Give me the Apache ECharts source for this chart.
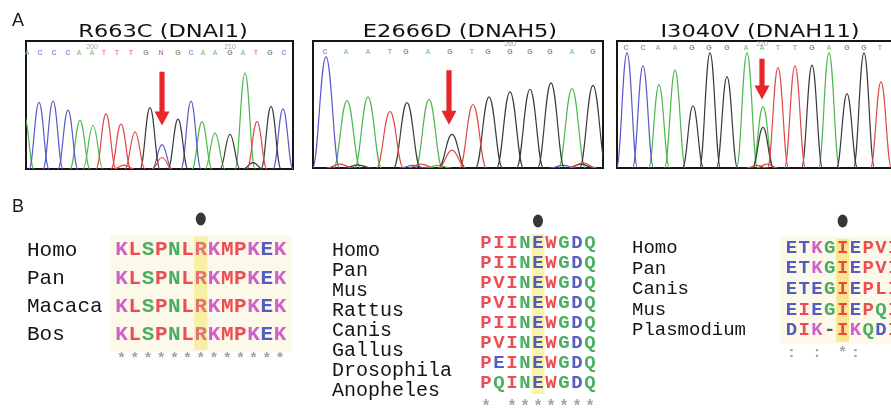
<!DOCTYPE html>
<html><head><meta charset="utf-8">
<script src="https://cdn.jsdelivr.net/npm/echarts@6/dist/echarts.min.js"></script>
<style>html,body{margin:0;padding:0;background:#fff}#c{width:891px;height:412px}</style>
</head><body><div id="c"></div>
<script>
// ================= Panel A : Sanger chromatograms =================
// peaks: [scan position, peak height (% of box)]
const chromTitles = ['R663C (DNAI1)', 'E2666D (DNAH5)', 'I3040V (DNAH11)'];

const chrom1Bases = ['A','C','C','C','A','A','T','T','T','G','N','G','C','A','A','G','A','T','G','C'];
const chrom1BasePos = [1,14,28,42,53,66,78,91,105,120,135,152,165,177,189,204,217,230,244,258];
const chrom1A = [[-2,42],[54,38],[67,34],[176,37],[189,28],[219,75]];
const chrom1C = [[13,52],[27,53],[42,46],[136,19],[165,53],[257,47]];
const chrom1G = [[124,48],[152,39],[204,27],[227,5],[245,49]];
const chrom1T = [[80,43],[95,35],[109,29],[136,9],[231,37],[98,3]];
const chrom1Ticks = [[5,'200'],[15,'210']];
const chrom1Arrow = [136, 76, 34];

const chrom2Bases = ['C','A','A','T','G','A','G','T','G','G','G','G','A','G'];
const chrom2BasePos = [12,33,55,77,93,115,137,159,175,197,217,237,259,280];
const chrom2A = [[34,53],[55,56],[116,54],[259,62.5],[125,2]];
const chrom2C = [[13,87.5],[100,2],[250,2]];
const chrom2G = [[94,51.5],[139,26.5],[176,56],[197,60],[217,62],[238,67],[280,65],[45,2.5],[268,3]];
const chrom2T = [[77,44.5],[139,14],[160,50],[27,3],[108,3],[270,4]];
const chrom2Ticks = [[9,'260']];
const chrom2Arrow = [136, 77, 34];

const chrom3Bases = ['C','C','A','A','G','G','G','A','A','T','T','G','A','G','G','T'];
const chrom3BasePos = [9,26,41,58,75,92,110,129,145,161,178,195,212,230,247,263];
const chrom3A = [[42,65.6],[58,77],[130,90.6],[146,48.4],[212,90.6]];
const chrom3C = [[10,90.6],[26,80.5]];
const chrom3G = [[76,49],[93,90.6],[110,72],[146,32],[195,81],[230,58.6],[247,90.6]];
const chrom3T = [[161,79],[178,80.5],[264,68],[140,2],[150,3]];
const chrom3Ticks = [[8,'220']];
const chrom3Arrow = [145, 86, 54];

// ================= Panel B : protein alignments =================
const aln1Species = ['Homo','Pan','Macaca','Bos'];
const aln1Seqs = ['KLSPNLRKMPKEK','KLSPNLRKMPKEK','KLSPNLRKMPKEK','KLSPNLRKMPKEK'];
const aln1Cons = '*************';
const aln1Site = 6;

const aln2Species = ['Homo','Pan','Mus','Rattus','Canis','Gallus','Drosophila','Anopheles'];
const aln2Seqs = ['PIINEWGDQ','PIINEWGDQ','PVINEWGDQ','PVINEWGDQ','PIINEWGDQ','PVINEWGDQ','PEINEWGDQ','PQINEWGDQ'];
const aln2Cons = '* *******';
const aln2Site = 4;

const aln3Species = ['Homo','Pan','Canis','Mus','Plasmodium'];
const aln3Seqs = ['ETKGIEPVI','ETKGIEPVI','ETEGIEPLI','EIEGIEPQI','DIK-IKQDI'];
const aln3Cons = ': : *:   ';
const aln3Site = 4;

// ---------------- styles ----------------
const traceColor = {A:'#4cb84c', C:'#5a5acc', G:'#3a3a3a', T:'#e04848'};
const baseColor = {A:'#6cc46c', C:'#7070d8', G:'#6a6a6a', T:'#e57070', N:'#b060b0'};
const RED='#e8202a', BLUE='#2b36b0', MAG='#c23cbe', GRN='#1e9a3c';
const aaColor = {A:RED,V:RED,F:RED,P:RED,M:RED,I:RED,L:RED,W:RED,
  D:BLUE,E:BLUE,T:BLUE, R:'#e0506a',K:MAG, S:GRN,N:GRN,G:GRN,Q:GRN,Y:GRN,H:GRN,C:GRN,'-':'#333'};

const chromGrids = [
  {left:26, top:41, width:267, height:128, max:267, halfW:10, letterDy:12, tickDy:6},
  {left:313, top:41, width:290, height:127, max:290, halfW:13.5, letterDy:11, tickDy:3},
  {left:617, top:41, width:290, height:127, max:290, halfW:10.5, letterDy:7, tickDy:3}
];
const chroms = [
  {bases:chrom1Bases, pos:chrom1BasePos, peaks:{A:chrom1A,C:chrom1C,G:chrom1G,T:chrom1T}, ticks:chrom1Ticks, arrow:chrom1Arrow},
  {bases:chrom2Bases, pos:chrom2BasePos, peaks:{A:chrom2A,C:chrom2C,G:chrom2G,T:chrom2T}, ticks:chrom2Ticks, arrow:chrom2Arrow},
  {bases:chrom3Bases, pos:chrom3BasePos, peaks:{A:chrom3A,C:chrom3C,G:chrom3G,T:chrom3T}, ticks:chrom3Ticks, arrow:chrom3Arrow}
];

const alnGrids = [
  {left:115, top:235.85, width:171.6, height:141.5, margin:88, labelSize:21, letterSize:21, labelVA:'middle', labelLH:null, dotDy:-31, consSize:15, consDy:-4, bg:'#fcf8ea', hl:'rgba(246,236,140,0.75)'},
  {left:479.5, top:233, width:117, height:180, margin:147.5, labelSize:20, letterSize:19, labelVA:'top', labelLH:16, dotDy:-22, consSize:16, consDy:4, bg:null, hl:'rgba(246,236,140,0.7)'},
  {left:785, top:237.7, width:115.2, height:123.6, margin:153, labelSize:19, letterSize:19, labelVA:'middle', labelLH:null, dotDy:-27, consSize:15, consDy:2, bg:'#fcf8ea', hl:'rgba(248,226,120,0.8)'}
];
const alns = [
  {species:aln1Species, seqs:aln1Seqs, cons:aln1Cons, site:aln1Site},
  {species:aln2Species, seqs:aln2Seqs, cons:aln2Cons, site:aln2Site},
  {species:aln3Species, seqs:aln3Seqs, cons:aln3Cons, site:aln3Site}
];

function peakRender(halfW) {
  return function (params, api) {
    const x = api.value(0), h = api.value(1);
    const L = api.coord([x - halfW, 0]), T = api.coord([x, h]), R = api.coord([x + halfW, 0]);
    const dl = T[0] - L[0], dr = R[0] - T[0];
    const st = {stroke: api.visual('color'), fill: 'none', lineWidth: 1.2};
    return {type:'group', children:[
      {type:'bezierCurve', shape:{x1:L[0],y1:L[1],cpx1:L[0]+dl*0.42,cpy1:L[1],cpx2:T[0]-dl*0.42,cpy2:T[1],x2:T[0],y2:T[1]}, style:st},
      {type:'bezierCurve', shape:{x1:T[0],y1:T[1],cpx1:T[0]+dr*0.42,cpy1:T[1],cpx2:R[0]-dr*0.42,cpy2:R[1],x2:R[0],y2:R[1]}, style:st}
    ]};
  };
}
function arrowRender(params, api) {
  const x = api.value(0);
  const top = api.coord([x, api.value(1)]), tip = api.coord([x, api.value(2)]);
  const cx = top[0], sw = 2.6, hw = 7.5, hl = 14;
  const hy = tip[1] - hl;
  return {type:'polygon', shape:{points:[[cx-sw,top[1]],[cx+sw,top[1]],[cx+sw,hy],[cx+hw,hy],[cx,tip[1]],[cx-hw,hy],[cx-sw,hy]]},
    style:{fill:'#e8262a', stroke:'none'}};
}

const grids = [], xAxes = [], yAxes = [], series = [];
chromGrids.forEach((g, k) => {
  grids.push({left:g.left, top:g.top, width:g.width, height:g.height, show:true, borderColor:'#161616', borderWidth:2, backgroundColor:'#fff', containLabel:false, outerBoundsMode:'none'});
  xAxes.push({type:'value', gridIndex:k, min:0, max:g.max, show:false});
  yAxes.push({type:'value', gridIndex:k, min:0, max:100, show:false});
  const c = chroms[k];
  ['A','C','G','T'].forEach(b => {
    series.push({type:'custom', xAxisIndex:k, yAxisIndex:k, clip:true, silent:true, z:3,
      itemStyle:{color:traceColor[b]}, renderItem:peakRender(g.halfW), data:c.peaks[b]});
  });
  series.push({type:'scatter', xAxisIndex:k, yAxisIndex:k, symbolSize:1, silent:true, z:4,
    itemStyle:{color:'rgba(0,0,0,0)'},
    label:{show:true, position:'inside', formatter:'{b}', fontFamily:'Liberation Sans', fontWeight:'bold', fontSize:7, offset:[0, g.letterDy]},
    data:c.bases.map((b, i) => ({name:b, value:[c.pos[i], 100], label:{color:baseColor[b]}}))});
  series.push({type:'scatter', xAxisIndex:k, yAxisIndex:k, symbolSize:1, silent:true, z:4,
    itemStyle:{color:'rgba(0,0,0,0)'},
    label:{show:true, position:'inside', formatter:'{b}', fontFamily:'Liberation Sans', fontSize:7, color:'#8a8a8a', offset:[0, g.tickDy]},
    data:c.ticks.map(t => ({name:t[1], value:[c.pos[t[0]], 100]}))});
  series.push({type:'custom', xAxisIndex:k, yAxisIndex:k, clip:false, silent:true, z:6,
    renderItem:arrowRender, data:[c.arrow]});
});

alnGrids.forEach((g, j) => {
  const k = j + 3, a = alns[j];
  const ncol = a.seqs[0].length;
  grids.push({left:g.left, top:g.top, width:g.width, height:g.height, show:false, containLabel:false, outerBoundsMode:'none'});
  xAxes.push({type:'category', gridIndex:k, data:Array.from({length:ncol}, (_, i) => String(i)), show:false, boundaryGap:true});
  const lab = {show:true, interval:0, align:'left', margin:g.margin, fontFamily:'Liberation Mono', fontSize:g.labelSize, color:'#141414', verticalAlign:g.labelVA};
  if (g.labelLH) lab.lineHeight = g.labelLH;
  yAxes.push({type:'category', gridIndex:k, data:a.species.concat(['']), inverse:true, boundaryGap:true,
    axisLine:{show:false}, axisTick:{show:false}, splitLine:{show:false}, axisLabel:lab});
  const nrow = a.species.length;
  series.push({type:'custom', xAxisIndex:k, yAxisIndex:k, clip:false, silent:true, z:1,
    renderItem:function (params, api) {
      const c0 = api.coord([0, 0]), sz = api.size([1, 1]);
      const x0 = c0[0] - sz[0] / 2 - 5, y0 = c0[1] - sz[1] / 2 - 1;
      const children = [];
      if (g.bg) children.push({type:'rect', shape:{x:x0, y:y0, width:sz[0]*ncol + 10, height:sz[1]*nrow + 4}, style:{fill:g.bg}});
      const cs = api.coord([api.value(0), 0]);
      children.push({type:'rect', shape:{x:cs[0]-sz[0]/2, y:y0 + 2, width:sz[0], height:sz[1]*nrow}, style:{fill:g.hl}});
      return {type:'group', children};
    }, data:[[a.site, 0]]});
  const letters = [];
  a.seqs.forEach((s, r) => s.split('').forEach((ch, c) => letters.push({name:ch, value:[c, r], label:{color:aaColor[ch] || '#333'}})));
  series.push({type:'scatter', xAxisIndex:k, yAxisIndex:k, symbolSize:1, silent:true, z:5,
    itemStyle:{color:'rgba(0,0,0,0)'},
    label:{show:true, position:'inside', formatter:'{b}', fontFamily:'Liberation Mono', fontWeight:'bold', fontSize:g.letterSize},
    data:letters});
  const cons = [];
  a.cons.split('').forEach((ch, c) => { if (ch !== ' ') cons.push({name:ch, value:[c, nrow]}); });
  series.push({type:'scatter', xAxisIndex:k, yAxisIndex:k, symbolSize:1, silent:true, z:5,
    itemStyle:{color:'rgba(0,0,0,0)'},
    label:{show:true, position:'inside', formatter:'{b}', fontFamily:'Liberation Mono', fontWeight:'bold', fontSize:g.consSize, color:'#8c8c8c', offset:[0, g.consDy]},
    data:cons});
  series.push({type:'scatter', xAxisIndex:k, yAxisIndex:k, symbol:'circle', symbolSize:[10,13], symbolOffset:[0, g.dotDy], silent:true, z:5,
    itemStyle:{color:'#050505'}, data:[[a.site, 0]]});
});

const titleCenters = [163, 460, 760];
const graphic = [
  {type:'text', x:18, y:21.5, style:{text:'A', font:'18px "Liberation Sans"', fill:'#1a1a1a', textAlign:'center', textVerticalAlign:'middle'}},
  {type:'text', x:18, y:207, style:{text:'B', font:'18px "Liberation Sans"', fill:'#1a1a1a', textAlign:'center', textVerticalAlign:'middle'}}
].concat(chromTitles.map((t, i) => ({type:'text', x:titleCenters[i], y:32, scaleX:1.25,
  style:{text:t, font:'18px "DejaVu Sans"', fill:'#111', textAlign:'center', textVerticalAlign:'middle'}})));

const chart = echarts.init(document.getElementById('c'), null, {renderer:'canvas'});
chart.setOption({
  backgroundColor:'#ffffff',
  animation:false,
  grid:grids, xAxis:xAxes, yAxis:yAxes, series:series, graphic:graphic
});
</script></body></html>
